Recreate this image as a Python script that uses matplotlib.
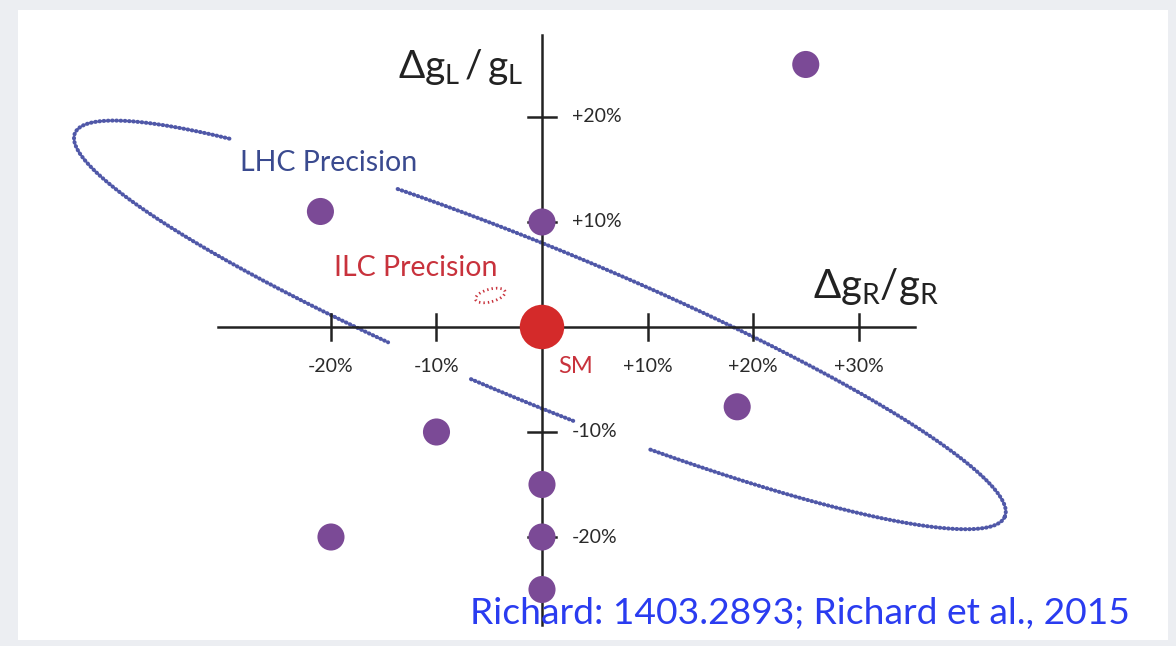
import numpy as np
import matplotlib.pyplot as plt
from matplotlib.patches import Ellipse, Rectangle

plt.rcParams['font.family'] = ['Lato', 'DejaVu Sans']
plt.rcParams['mathtext.fontset'] = 'custom'
plt.rcParams['mathtext.rm'] = 'Lato'
plt.rcParams['mathtext.it'] = 'Lato'

# model points, in % deviation (dgR/gR, dgL/gL)
model_x = [25, -21, 0, -10, 18.5, 0, 0, 0, -20]
model_y = [25, 11, 10, -10, -7.6, -15, -20, -25, -20]
sm_x, sm_y = [0], [0]

xticks = [-20, -10, 10, 20, 30]
xtick_labels = ['-20%', '-10%', '+10%', '+20%', '+30%']
yticks = [20, 10, -10, -20]
ytick_labels = ['+20%', '+10%', '-10%', '-20%']

# LHC precision ellipse (centre, semi-axes, tilt) and ILC ellipse
lhc_c = (-0.2, 0.2)
lhc_a, lhc_b, lhc_ang = 47.7, 7.3, -22.5
ilc_c = (-4.9, 3.0)
ilc_w, ilc_h, ilc_ang = 2.9, 1.2, 15

fig = plt.figure(figsize=(11.76, 6.46), dpi=100, facecolor='#eceef2')
ax = fig.add_axes([0, 0, 1, 1])
ax.set_xlim(-51.37, 60.09)
ax.set_ylim(-30.38, 31.14)
ax.axis('off')

ax.add_patch(Rectangle((18 / 1176, 6 / 646), 1150 / 1176, 630 / 646,
                       transform=ax.transAxes, facecolor='white', edgecolor='none', zorder=0))

# axes cross
ax.plot([-30.7, 35.4], [0, 0], color='#222222', lw=1.8, zorder=2)
ax.plot([0, 0], [-28.4, 27.8], color='#222222', lw=1.8, zorder=2)
for x in xticks:
    ax.plot([x, x], [-1.25, 1.25], color='#222222', lw=1.8, zorder=2)
for y in yticks:
    ax.plot([-1.3, 1.3], [y, y], color='#222222', lw=1.8, zorder=2)

for x, lab in zip(xticks, xtick_labels):
    ax.text(x, -3.8, lab, ha='center', va='center', fontsize=14, color='#2a2a2a')
for y, lab in zip(yticks, ytick_labels):
    ax.text(2.8, y, lab, ha='left', va='center', fontsize=14, color='#2a2a2a')

# LHC ellipse, dotted, with gaps around labels
t = np.linspace(0, 2 * np.pi, 1200)
th = np.radians(lhc_ang)
ex = lhc_c[0] + lhc_a * np.cos(t) * np.cos(th) - lhc_b * np.sin(t) * np.sin(th)
ey = lhc_c[1] + lhc_a * np.cos(t) * np.sin(th) + lhc_b * np.sin(t) * np.cos(th)
upper = np.sin(t) > 0
gap = (upper & (ex > -29.6) & (ex < -13.9)) | \
      (~upper & (ex > -14.4) & (ex < -6.8)) | \
      (~upper & (ex > 3.1) & (ex < 10.2))
ey = np.where(gap, np.nan, ey)
ax.plot(ex, ey, color='#5058a8', lw=2.9, linestyle=(0, (0.15, 0.9)),
        dash_capstyle='round', zorder=1)

ax.add_patch(Ellipse(ilc_c, ilc_w, ilc_h, angle=ilc_ang, fill=False,
                     edgecolor='#c8323c', lw=2.0, linestyle=(0, (0.5, 1.1)), zorder=3))

ax.scatter(model_x, model_y, s=19.5 ** 2, color='#7b4a96', edgecolor='none', zorder=4)
ax.scatter(sm_x, sm_y, s=32 ** 2, color='#d42a2a', edgecolor='none', zorder=5)

ax.text(1.5, -3.8, 'SM', ha='left', va='center', fontsize=17, color='#c8323c')
ax.text(-7.7, 24.8, r'$\Delta g_L\,/\,g_L$', ha='center', va='center', fontsize=28, color='#222222')
ax.text(31.6, 3.9, r'$\Delta g_R/g_R$', ha='center', va='center', fontsize=29, color='#222222')
ax.text(-20.2, 15.6, 'LHC Precision', ha='center', va='center', fontsize=20.5, color='#3a4a8f')
ax.text(-12.0, 5.6, 'ILC Precision', ha='center', va='center', fontsize=20.5, color='#c8323c')
ax.text(24.45, -27.3, 'Richard: 1403.2893; Richard et al., 2015', ha='center', va='center',
        fontsize=26.8, color='#2a3cf0')

fig.savefig('out.png', dpi=100, facecolor=fig.get_facecolor())
